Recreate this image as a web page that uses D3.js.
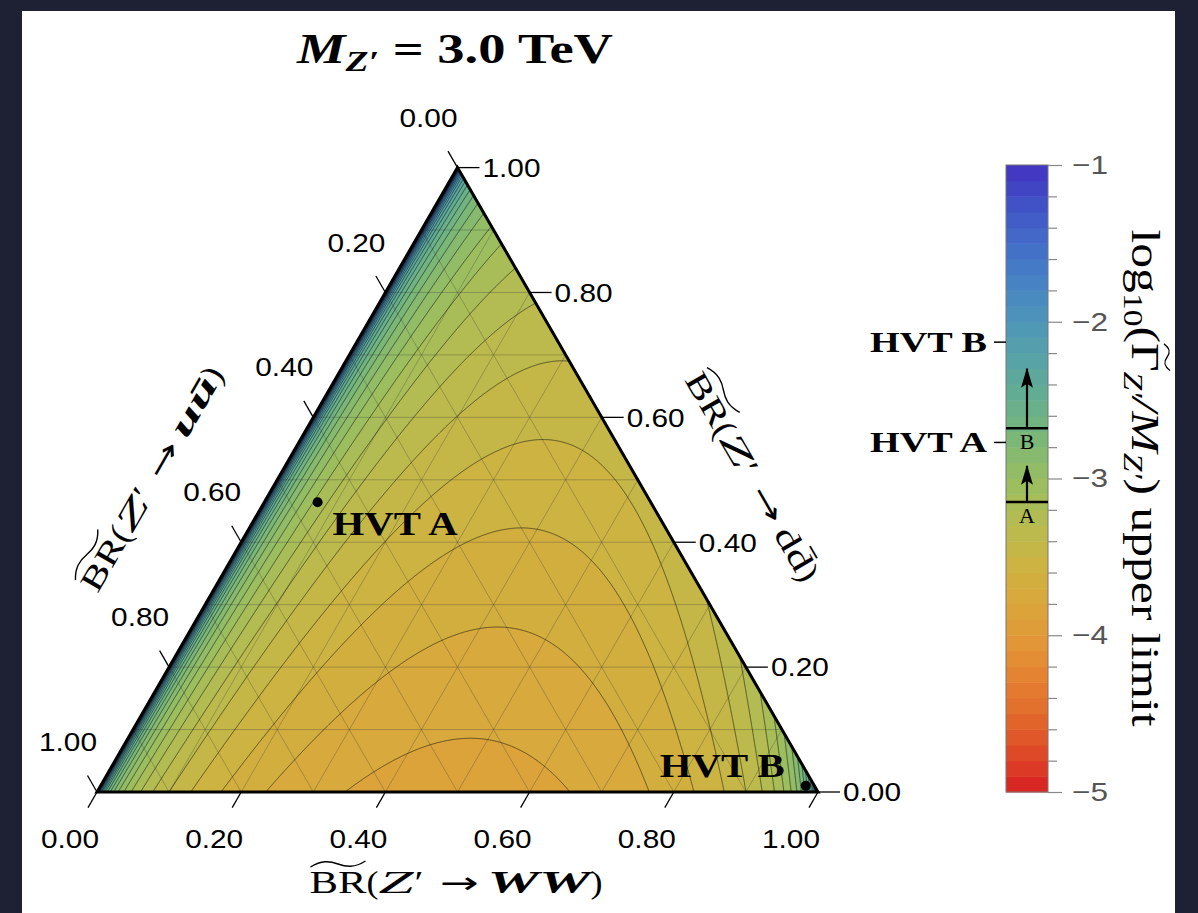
<!DOCTYPE html>
<html>
<head>
<meta charset="utf-8">
<script src="https://cdn.jsdelivr.net/npm/d3@7"></script>
<style>
  body { margin: 0; background: #1e2134; }
  svg { display: block; }
  .tick-label { font-family: "Liberation Sans", Arial, sans-serif; font-size: 26px; fill: #000; }
  .math { font-family: "Liberation Serif", "Times New Roman", serif; }
</style>
</head>
<body>
<svg id="chart" width="1198" height="913"></svg>
<script>
// ---- data ----
var axisTicks = [0, 0.2, 0.4, 0.6, 0.8, 1.0];
var gridSteps = [0.1, 0.2, 0.3, 0.4, 0.5, 0.6, 0.7, 0.8, 0.9];

// colorbar (log10 of width upper limit)
var cbTicks = [-1, -2, -3, -4, -5];
var cbMinor = [-1.2, -1.4, -1.6, -1.8, -2.2, -2.4, -2.6, -2.8, -3.2, -3.4, -3.6, -3.8, -4.2, -4.4, -4.6, -4.8];
var cbStops = [-5, -4.75, -4.5, -4.25, -4, -3.75, -3.5, -3.25, -3, -2.75, -2.5, -2.25, -2, -1.75, -1.5, -1.25, -1];
var cbColors = ["#d81f22", "#de4a28", "#e26c2c", "#e48432", "#e19a38", "#d8a93c", "#cab644", "#b2bc52",
                "#98be62", "#7bb877", "#65ae90", "#58a3a5", "#4d96b8", "#4783c4", "#436dc9", "#4152c6", "#4231c0"];

// benchmark models: BR(WW), BR(dd) shares, limit at that point, model value, arrow tip
var models = ["HVT A", "HVT B"];
var modelWW = [0.074, 0.978];
var modelDD = [0.464, 0.010];
var modelLimit = [-3.15, -2.68];
var modelValue = [-2.77, -2.13];
var arrowTip = [-2.90, -2.28];
var boxLetter = ["A", "B"];

// contour spacing follows the 0.1 bands of the colorbar
var levels = d3.range(-5, 0.51, 0.1).map(function(v) { return Math.round(v * 10) / 10; });

// innermost contour (-3.8) meets the WW axis at these two values
var innerLevel = -3.8;
var innerCross = [0.344, 0.656];

// limit surface: a - log10(WW) - log10(uu + r*dd); a from the inner contour, r
var ddWeight = 0.42;
var fieldA = innerLevel + Math.log10(innerCross[0] * (1 - innerCross[0]));

function limitAt(w, d) {
    var u = 1 - w - d;
    w = Math.max(w, 1e-7); d = Math.max(d, 1e-7); u = Math.max(u, 1e-7);
    return fieldA - Math.log10(w) - Math.log10(u + ddWeight * d);
}

// ---- layout ----
var svg = d3.select("#chart");
var left = 97, bottom = 792, side = 721;
var H = side * Math.sqrt(3) / 2;

var sideScale = d3.scaleLinear().domain([0, 1]).range([0, side]);
var heightScale = d3.scaleLinear().domain([0, 1]).range([bottom, bottom - H]);

function pos(w, d) {
    return [left + sideScale(w + d / 2), heightScale(d)];
}

var P_L = pos(0, 0), P_R = pos(1, 0), P_T = pos(0, 1);

// white panel
svg.append("rect")
    .attr("x", 22).attr("y", 11).attr("width", 1153).attr("height", 910)
    .attr("fill", "#fff");

svg.append("clipPath").attr("id", "tri")
  .append("path")
    .attr("d", "M" + P_L + "L" + P_R + "L" + P_T + "Z");

// ---- filled contours ----
var gx0 = left, gy0 = Math.floor(bottom - H) - 1;
var gw = side + 2, gh = Math.ceil(H) + 3;
var values = new Float64Array(gw * gh);
for (var j = 0; j < gh; j++) {
    for (var i = 0; i < gw; i++) {
        var px = gx0 + i + 0.5, py = gy0 + j + 0.5;
        var d = heightScale.invert(py);
        var w = sideScale.invert(px - left) - d / 2;
        values[j * gw + i] = limitAt(w, d);
    }
}

var color = d3.scaleLinear().domain(cbStops).range(cbColors).clamp(true);

var contours = d3.contours().size([gw, gh]).thresholds(levels)(values);
var path = d3.geoPath(d3.geoIdentity().translate([gx0, gy0]));

var plot = svg.append("g").attr("clip-path", "url(#tri)");

plot.append("g")
  .selectAll("path")
  .data(contours)
  .enter().append("path")
    .attr("d", path)
    .attr("fill", function(c) { return color(c.value + 0.05); })
    .attr("stroke", function(c) { return color(c.value + 0.05); })
    .attr("stroke-width", 0.5);

// grid lines every 0.1 along the three directions
var gridG = plot.append("g")
    .attr("stroke", "#3a3a3a").attr("stroke-opacity", 0.35).attr("stroke-width", 0.9).attr("fill", "none");
gridSteps.forEach(function(v) {
    gridG.append("line").attr("x1", pos(v, 0)[0]).attr("y1", pos(v, 0)[1])
        .attr("x2", pos(v, 1 - v)[0]).attr("y2", pos(v, 1 - v)[1]);
    gridG.append("line").attr("x1", pos(0, v)[0]).attr("y1", pos(0, v)[1])
        .attr("x2", pos(1 - v, v)[0]).attr("y2", pos(1 - v, v)[1]);
    gridG.append("line").attr("x1", pos(1 - v, 0)[0]).attr("y1", pos(1 - v, 0)[1])
        .attr("x2", pos(0, 1 - v)[0]).attr("y2", pos(0, 1 - v)[1]);
});

// contour lines
plot.append("g")
  .selectAll("path")
  .data(contours.filter(function(c) { return c.value > -3.9; }))
  .enter().append("path")
    .attr("d", path)
    .attr("fill", "none")
    .attr("stroke", "#111")
    .attr("stroke-opacity", 0.7)
    .attr("stroke-width", 0.8);

// triangle border
svg.append("path")
    .attr("d", "M" + P_L + "L" + P_R + "L" + P_T + "Z")
    .attr("fill", "none").attr("stroke", "#000").attr("stroke-width", 3)
    .attr("stroke-linejoin", "miter");

// ---- ternary axes: ticks + labels ----
var fmt = d3.format(".2f");
var c60 = 0.5, s60 = Math.sqrt(3) / 2;
var axes = [
    { at: function(v) { return pos(v, 0); }, dir: [-c60, s60], len: 18, lab: 54, anchor: "middle" },
    { at: function(v) { return pos(1 - v, v); }, dir: [1, 0], len: 22, lab: 25, anchor: "start" },
    { at: function(v) { return pos(0, 1 - v); }, dir: [-c60, -s60], len: 19, lab: 58, anchor: "middle" }
];
axes.forEach(function(ax) {
    var g = svg.append("g");
    axisTicks.forEach(function(v) {
        var p = ax.at(v);
        g.append("line")
            .attr("x1", p[0]).attr("y1", p[1])
            .attr("x2", p[0] + ax.dir[0] * ax.len).attr("y2", p[1] + ax.dir[1] * ax.len)
            .attr("stroke", "#000").attr("stroke-width", 1.3);
        g.append("text").attr("class", "tick-label")
            .attr("x", p[0] + ax.dir[0] * ax.lab).attr("y", p[1] + ax.dir[1] * ax.lab)
            .attr("dy", "0.36em")
            .attr("text-anchor", ax.anchor)
            .attr("textLength", 58).attr("lengthAdjust", "spacingAndGlyphs")
            .text(fmt(v));
    });
});

// ---- axis titles ----
function wideTilde(g, x0, wdt, y, transform) {
    g.append("path")
        .attr("transform", transform || null)
        .attr("d", "M" + x0 + "," + (y + 2) +
              "C" + (x0 + wdt * 0.2) + "," + (y - 5) + " " + (x0 + wdt * 0.35) + "," + (y - 4) + " " + (x0 + wdt * 0.5) + "," + (y - 1) +
              "S" + (x0 + wdt * 0.8) + "," + (y + 3) + " " + (x0 + wdt) + "," + (y - 4))
        .attr("fill", "none").attr("stroke", "#000").attr("stroke-width", 1.4);
}

// pieces of "BR(Z' -> xx)" with their widths along the line, as they appear in the picture
function brTitle(cx, cy, angle, last) {
    var segs = [
        { t: "BR", w: 57 }, { t: "(", w: 12 }, { t: "Z", w: 35, i: 1 }, { t: "′", w: 9, pre: 1 },
        { t: "→", w: 39, pre: 16, f: "DejaVu Sans", s: 30 },
        { t: last.t, w: last.w, pre: 9, i: last.i, b: last.b }, { t: ")", w: 12 }
    ];
    var total = d3.sum(segs, function(s) { return s.w + (s.pre || 0); });
    var g = svg.append("g").attr("transform", "translate(" + cx + "," + cy + ") rotate(" + angle + ")");
    var x = -total / 2;
    segs.forEach(function(s) {
        x += s.pre || 0;
        var t = g.append("text").attr("class", "math")
            .attr("x", x).attr("y", 0)
            .attr("font-size", s.s || 32)
            .attr("textLength", s.w).attr("lengthAdjust", "spacingAndGlyphs")
            .text(s.t);
        if (s.f) t.style("font-family", s.f);
        if (s.i) t.attr("font-style", "italic");
        if (s.b) t.attr("font-weight", "bold");
        if (s.t === "BR") wideTilde(g, x + 1, s.w - 2, -28);
        x += s.w;
    });
}
brTitle(456, 893, 0, { t: "WW", w: 103, i: 1, b: 1 });
brTitle(161, 484, -60, { t: "uū", w: 64, i: 1, b: 1 });
brTitle(743, 482, 60, { t: "dd\u0304", w: 46 });

// ---- title ----
var title = svg.append("text").attr("class", "math")
    .attr("x", 455).attr("y", 63).attr("text-anchor", "middle")
    .attr("font-size", 42).attr("font-weight", "bold")
    .attr("textLength", 316).attr("lengthAdjust", "spacingAndGlyphs");
title.append("tspan").attr("font-style", "italic").text("M");
title.append("tspan").attr("font-style", "italic").attr("font-size", 29).attr("dy", 8).text("Z′");
title.append("tspan").attr("dy", -8).text(" = 3.0 TeV");

// ---- benchmark points in triangle ----
models.forEach(function(m, k) {
    var p = pos(modelWW[k], modelDD[k]);
    svg.append("circle").attr("cx", p[0]).attr("cy", p[1]).attr("r", 5).attr("fill", "#000");
});
var pA = pos(modelWW[0], modelDD[0]), pB = pos(modelWW[1], modelDD[1]);
svg.append("text").attr("class", "math").attr("font-weight", "bold").attr("font-size", 34)
    .attr("x", pA[0] + 15).attr("y", pA[1] + 33).attr("textLength", 125).attr("lengthAdjust", "spacingAndGlyphs")
    .text(models[0]);
svg.append("text").attr("class", "math").attr("font-weight", "bold").attr("font-size", 33)
    .attr("x", pB[0] - 146).attr("y", pB[1] - 9).attr("textLength", 125).attr("lengthAdjust", "spacingAndGlyphs")
    .text(models[1]);

// ---- colorbar ----
var cbX = 1006, cbW = 42;
var cbScale = d3.scaleLinear().domain([-5, -1]).range([792, 165]);
var bands = d3.range(-5, -1, 0.1).map(function(v) { return Math.round(v * 10) / 10; });

var cb = svg.append("g");
cb.selectAll("rect.band")
  .data(bands)
  .enter().append("rect").attr("class", "band")
    .attr("x", cbX).attr("width", cbW)
    .attr("y", function(v) { return cbScale(v + 0.1); })
    .attr("height", function(v) { return cbScale(v) - cbScale(v + 0.1) + 0.5; })
    .attr("fill", function(v) { return color(v + 0.05); });
cb.append("rect").attr("x", cbX).attr("y", cbScale(-1)).attr("width", cbW)
    .attr("height", cbScale(-5) - cbScale(-1))
    .attr("fill", "none").attr("stroke", "#777").attr("stroke-width", 1);

var cbAxis = cb.append("g").attr("transform", "translate(" + (cbX + cbW) + ",0)")
    .call(d3.axisRight(cbScale).tickValues(cbTicks).tickSize(14).tickPadding(10)
        .tickFormat(function(d) { return "−" + Math.abs(d); }));
cbAxis.select(".domain").remove();
cbAxis.selectAll("line").attr("stroke", "#888").attr("stroke-width", 1.2);
cbAxis.selectAll("text").attr("class", "tick-label").style("fill", "#555")
    .attr("textLength", 36).attr("lengthAdjust", "spacingAndGlyphs");
cb.append("g").attr("transform", "translate(" + (cbX + cbW) + ",0)")
    .call(d3.axisRight(cbScale).tickValues(cbMinor).tickSize(9).tickFormat(""))
    .call(function(g) { g.select(".domain").remove(); g.selectAll("line").attr("stroke", "#888").attr("stroke-width", 1.2); });

// limit lines, arrows and letters inside the bar
var defs = svg.append("defs");
defs.append("marker").attr("id", "arrow").attr("viewBox", "0 0 20 12")
    .attr("refX", 19).attr("refY", 6).attr("markerWidth", 20).attr("markerHeight", 12)
    .attr("orient", "auto").attr("markerUnits", "userSpaceOnUse")
  .append("path").attr("d", "M0,0 L20,6 L0,12 L4,6 Z").attr("fill", "#000");

models.forEach(function(m, k) {
    var yl = cbScale(modelLimit[k]);
    cb.append("line").attr("x1", cbX).attr("x2", cbX + cbW).attr("y1", yl).attr("y2", yl)
        .attr("stroke", "#000").attr("stroke-width", 2.5);
    cb.append("line").attr("x1", cbX + cbW / 2).attr("x2", cbX + cbW / 2)
        .attr("y1", yl).attr("y2", cbScale(arrowTip[k]) + 3)
        .attr("stroke", "#000").attr("stroke-width", 2.2)
        .attr("marker-end", "url(#arrow)");
    cb.append("text").attr("class", "math").attr("font-size", 22)
        .attr("x", cbX + cbW / 2).attr("y", yl + 21).attr("text-anchor", "middle")
        .text(boxLetter[k]);
    var ym = cbScale(modelValue[k]);
    cb.append("line").attr("x1", cbX - 12).attr("x2", cbX).attr("y1", ym).attr("y2", ym)
        .attr("stroke", "#000").attr("stroke-width", 1.5);
    cb.append("text").attr("class", "math").attr("font-weight", "bold").attr("font-size", 30)
        .attr("x", cbX - 19).attr("y", ym).attr("dy", "0.33em").attr("text-anchor", "end")
        .attr("textLength", 117).attr("lengthAdjust", "spacingAndGlyphs")
        .text(m);
});

// colorbar label
var cblT = "translate(1132,478) rotate(90)";
var cbl = svg.append("text").attr("class", "math").attr("font-size", 40)
    .attr("transform", cblT)
    .attr("text-anchor", "middle")
    .attr("textLength", 497).attr("lengthAdjust", "spacingAndGlyphs");
cbl.append("tspan").text("log");
cbl.append("tspan").attr("font-size", 27).attr("dy", 8).text("10");
cbl.append("tspan").attr("dy", -8).text("(Γ");
cbl.append("tspan").attr("font-size", 27).attr("dy", 8).attr("font-style", "italic").text("Z′");
cbl.append("tspan").attr("dy", -8).attr("font-style", "italic").text("/M");
cbl.append("tspan").attr("font-size", 27).attr("dy", 8).attr("font-style", "italic").text("Z′");
cbl.append("tspan").attr("dy", -8).text(")  upper  limit");
var gBox = cbl.node().getExtentOfChar(6);
wideTilde(svg, gBox.x + 1, gBox.width - 2, gBox.y + 2, cblT);
</script>
</body>
</html>
